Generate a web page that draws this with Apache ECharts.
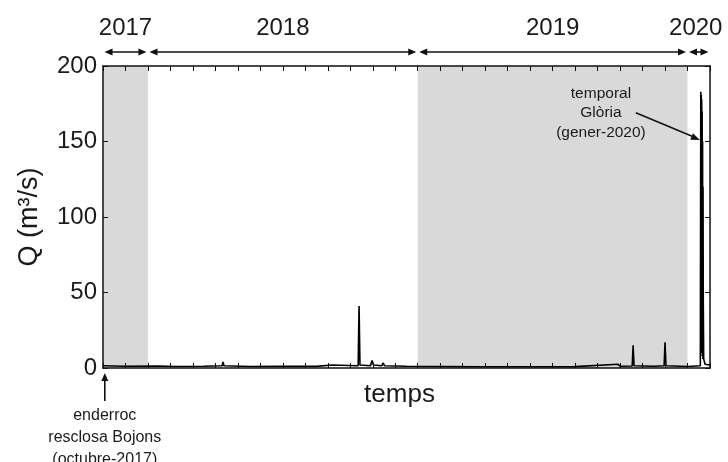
<!DOCTYPE html>
<html>
<head>
<meta charset="utf-8">
<script src="https://cdn.jsdelivr.net/npm/echarts@6/dist/echarts.min.js"></script>
<style>html,body{margin:0;padding:0;background:#fff;}#c{width:728px;height:462px;}</style>
</head>
<body>
<div id="c"></div>
<script>
// x = months since 1 Nov 2017 (0 = Nov-2017, 2 = Jan-2018, 14 = Jan-2019, 26 = Jan-2020)
var months = [0, 1.0, 2.5, 3.2, 4.5, 5.30, 5.34, 5.38, 6.5, 8.0, 9.5, 10.2, 11.35, 11.39, 11.43, 11.9, 11.97, 12.03, 12.4, 12.46, 12.52, 13.5, 15, 17, 19, 21, 22.9, 23.0, 23.54, 23.58, 23.62, 24.5, 24.96, 25.0, 25.04, 26.0, 26.57, 26.59, 26.60, 26.61, 26.62, 26.63, 26.64, 26.65, 26.66, 26.67, 26.68, 26.69, 26.70, 26.72, 26.78, 27];
var discharge = [1.5, 1.2, 1.3, 1.0, 1.2, 1.5, 4, 1.5, 1.0, 1.2, 1.1, 2, 1.5, 41, 2, 1.5, 5, 2, 1.5, 3.5, 1.5, 1.2, 1.0, 0.8, 0.8, 0.9, 2.5, 1.2, 1.3, 15, 1.5, 1.2, 1.5, 17, 1.5, 1.0, 1.5, 183, 20, 181, 15, 178, 10, 170, 8, 150, 6, 120, 45, 6, 2.5, 2];
var yearLabels = ['2017', '2018', '2019', '2020'];
var yearStart = [0, 2, 14, 26];
var yearEnd = [2, 14, 26, 27];
var shadedYears = [[0, 2], [14, 26]];

var chart = echarts.init(document.getElementById('c'));
var FONT = 'Liberation Sans, Arial, sans-serif';
var TXT = '#1a1a1a';

var data = months.map(function (m, i) { return [m, discharge[i]]; });

var tickStyle = { inside: true, length: 5, lineStyle: { color: '#111', width: 1 } };
var lineStyle = { color: '#111', width: 1.5 };

var option = {
  animation: false,
  backgroundColor: '#ffffff',
  grid: { left: 103, right: 18, top: 66, bottom: 94 },
  xAxis: [
    {
      type: 'value', min: 0, max: 27, interval: 1, position: 'bottom', z: 10,
      name: 'temps', nameLocation: 'middle', nameGap: 14,
      nameTextStyle: { fontFamily: FONT, fontSize: 26, color: TXT, padding: [0, 14, 0, 0] },
      axisLine: { onZero: false, lineStyle: lineStyle },
      axisTick: tickStyle,
      axisLabel: { show: false }, splitLine: { show: false }
    },
    {
      type: 'value', min: 0, max: 27, interval: 1, position: 'top', z: 10,
      axisLine: { onZero: false, lineStyle: lineStyle },
      axisTick: tickStyle,
      axisLabel: { show: false }, splitLine: { show: false }
    }
  ],
  yAxis: [
    {
      type: 'value', min: 0, max: 200, interval: 50, position: 'left', z: 10,
      name: 'Q (m³/s)', nameLocation: 'middle', nameGap: 60, nameRotate: 90,
      nameTextStyle: { fontFamily: FONT, fontSize: 27, color: TXT },
      axisLine: { show: true, onZero: false, lineStyle: lineStyle },
      axisTick: tickStyle,
      axisLabel: { margin: 6, fontFamily: FONT, fontSize: 24, color: TXT },
      splitLine: { show: false }
    },
    {
      type: 'value', min: 0, max: 200, interval: 50, position: 'right', z: 10,
      axisLine: { show: true, onZero: false, lineStyle: lineStyle },
      axisTick: tickStyle,
      axisLabel: { show: false }, splitLine: { show: false }
    }
  ],
  series: [
    {
      type: 'line', data: [], z: 1, silent: true,
      markArea: {
        silent: true,
        itemStyle: { color: '#d9d9d9', opacity: 1 },
        data: shadedYears.map(function (s) { return [{ xAxis: s[0] }, { xAxis: s[1] }]; })
      }
    },
    {
      type: 'line', data: data, z: 5, symbol: 'none', silent: true,
      lineStyle: { color: '#000', width: 1.6 }
    }
  ]
};
chart.setOption(option);

function px(x, y) { return chart.convertToPixel({ gridIndex: 0 }, [x, y]); }

function arrowHead(tip, from, len, hw) {
  var dx = tip[0] - from[0], dy = tip[1] - from[1];
  var d = Math.sqrt(dx * dx + dy * dy); dx /= d; dy /= d;
  var bx = tip[0] - dx * len, by = tip[1] - dy * len;
  return {
    type: 'polygon', z: 20,
    shape: { points: [tip, [bx - dy * hw, by + dx * hw], [bx + dy * hw, by - dx * hw]] },
    style: { fill: '#111' }
  };
}

var graphics = [];
var gridTopPx = px(0, 200)[1];
var arrowY = gridTopPx - 14;
var labelY = gridTopPx - 38;
for (var i = 0; i < yearLabels.length; i++) {
  var x1 = px(yearStart[i], 0)[0] + 1.5;
  var x2 = px(yearEnd[i], 0)[0] - 1.5;
  graphics.push({ type: 'line', z: 20, shape: { x1: x1 + 4, y1: arrowY, x2: x2 - 4, y2: arrowY }, style: { stroke: '#111', lineWidth: 1.6 } });
  graphics.push(arrowHead([x1, arrowY], [x2, arrowY], 8, 3.5));
  graphics.push(arrowHead([x2, arrowY], [x1, arrowY], 8, 3.5));
  var cx = (x1 + x2) / 2;
  if (i === yearLabels.length - 1) cx -= 3;
  graphics.push({ type: 'text', z: 20, x: cx, y: labelY,
    style: { text: yearLabels[i], fontFamily: FONT, fontSize: 24, fill: TXT, align: 'center', verticalAlign: 'middle' } });
}

// Glòria annotation
var gTip = px(26.55, 151);
var gFrom = px(23.7, 169);
graphics.push({ type: 'line', z: 20, shape: { x1: gFrom[0], y1: gFrom[1], x2: gTip[0] - 6, y2: gTip[1] - 3 }, style: { stroke: '#111', lineWidth: 1.6 } });
graphics.push(arrowHead(gTip, gFrom, 9, 3.5));
var gText = px(22.15, 169);
graphics.push({ type: 'text', z: 20, x: gText[0], y: gText[1],
  style: { text: 'temporal\nGlòria\n(gener-2020)', fontFamily: FONT, fontSize: 15.5, lineHeight: 19.5, fill: TXT, align: 'center', verticalAlign: 'middle' } });

// enderroc annotation
var eX = px(0.08, 0)[0];
var eTop = px(0, 0)[1] + 5;
graphics.push({ type: 'line', z: 20, shape: { x1: eX, y1: eTop + 6, x2: eX, y2: eTop + 28 }, style: { stroke: '#111', lineWidth: 1.6 } });
graphics.push(arrowHead([eX, eTop], [eX, eTop + 28], 8, 3.5));
graphics.push({ type: 'text', z: 20, x: eX, y: eTop + 65,
  style: { text: 'enderroc\nresclosa Bojons\n(octubre-2017)', fontFamily: FONT, fontSize: 16, lineHeight: 22, fill: TXT, align: 'center', verticalAlign: 'middle' } });

chart.setOption({ graphic: { elements: graphics } });
</script>
</body>
</html>
